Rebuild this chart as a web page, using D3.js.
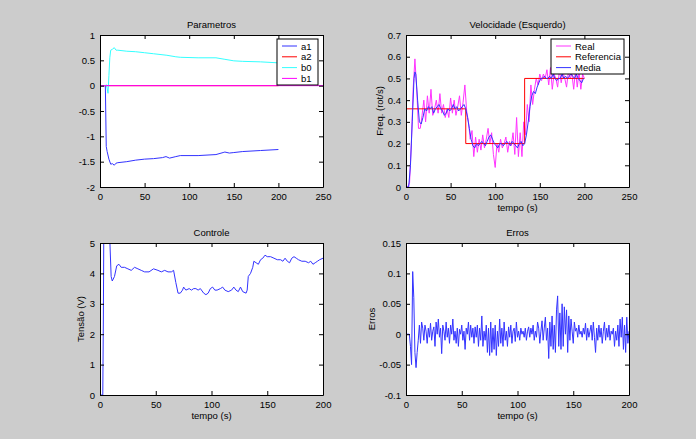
<!DOCTYPE html>
<html>
<head>
<meta charset="utf-8">
<script src="https://cdn.jsdelivr.net/npm/d3@7"></script>
<style>
  body { margin: 0; background: #cccccc; }
  svg { display: block; font-family: "Liberation Sans", Arial, sans-serif; }
  .tick text { font-size: 9.5px; fill: #000; }
</style>
</head>
<body>
<div id="fig"></div>
<script>
// Parametros
var a1T = [0, 6, 7, 8, 10, 12, 14, 16, 18, 20, 30, 40, 50, 60, 70, 74, 78, 85, 90, 110, 130, 138, 140, 145, 150, 160, 180, 200];
var a1V = [0, 0, -1.2, -1.3, -1.45, -1.55, -1.54, -1.57, -1.53, -1.52, -1.5, -1.47, -1.45, -1.44, -1.42, -1.4, -1.43, -1.4, -1.38, -1.38, -1.36, -1.32, -1.31, -1.33, -1.32, -1.3, -1.28, -1.26];
var a2T = [0, 200];
var a2V = [0, 0];
var b0T = [0, 6, 7, 8, 9, 10, 11, 12, 14, 16, 18, 20, 30, 40, 50, 60, 75, 85, 90, 110, 130, 140, 150, 160, 180, 200];
var b0V = [0, 0, 0.02, -0.05, -0.15, 0.2, 0.55, 0.7, 0.72, 0.75, 0.7, 0.7, 0.68, 0.67, 0.65, 0.63, 0.6, 0.57, 0.56, 0.55, 0.55, 0.52, 0.49, 0.48, 0.47, 0.45];
var b1T = [0, 250];
var b1V = [0, 0];

// Velocidade (Esquerdo)
var realT = d3.range(0, 201, 2);
var realV = [0, 0, 0.02, 0.2, 0.45, 0.59, 0.45, 0.27, 0.27, 0.33, 0.4, 0.3, 0.42, 0.34, 0.45, 0.33, 0.36, 0.4, 0.34, 0.43,
  0.34, 0.38, 0.32, 0.36, 0.32, 0.41, 0.34, 0.4, 0.33, 0.37, 0.42, 0.33, 0.39, 0.47, 0.35, 0.3, 0.22, 0.26, 0.14, 0.23,
  0.16, 0.22, 0.17, 0.24, 0.18, 0.22, 0.27, 0.2, 0.25, 0.15, 0.09, 0.2, 0.16, 0.22, 0.18, 0.2, 0.23, 0.16, 0.21, 0.19,
  0.25, 0.15, 0.32, 0.14, 0.25, 0.14, 0.3, 0.24, 0.38, 0.3, 0.47, 0.38, 0.45, 0.5, 0.47, 0.52, 0.49, 0.52, 0.5, 0.54,
  0.47, 0.55, 0.45, 0.52, 0.5, 0.46, 0.54, 0.48, 0.53, 0.5, 0.46, 0.53, 0.5, 0.52, 0.45, 0.54, 0.46, 0.53, 0.45, 0.52, 0.5];
var refT = [0, 67, 67, 133, 133, 200];
var refV = [0.36, 0.36, 0.2, 0.2, 0.5, 0.5];
var mediaT = [0, 3, 5, 7, 9, 10, 11, 13, 15, 17, 19, 21, 23, 25, 27, 29, 31, 33, 35, 37, 39, 41, 43, 45, 47, 49, 51, 53, 55, 57,
  59, 61, 63, 65, 67, 69, 71, 73, 75, 77, 79, 81, 83, 85, 87, 89, 91, 93, 95, 97, 99, 101, 103, 105, 107, 109, 111, 113, 115, 117,
  119, 121, 123, 125, 127, 129, 131, 133, 135, 137, 139, 141, 143, 145, 147, 149, 151, 153, 155, 157, 159, 161, 163, 165, 167, 169, 171, 173, 175, 177,
  179, 181, 183, 185, 187, 189, 191, 193, 195, 197, 199];
var mediaV = [0, 0, 0.1, 0.3, 0.5, 0.53, 0.52, 0.4, 0.3, 0.29, 0.32, 0.36, 0.35, 0.37, 0.36, 0.37, 0.34, 0.36, 0.37, 0.38,
  0.36, 0.35, 0.33, 0.34, 0.36, 0.35, 0.36, 0.38, 0.36, 0.37, 0.35, 0.36, 0.37, 0.38, 0.36, 0.32, 0.27, 0.22, 0.19, 0.18,
  0.2, 0.19, 0.2, 0.21, 0.2, 0.19, 0.21, 0.23, 0.24, 0.22, 0.2, 0.19, 0.18, 0.2, 0.2, 0.19, 0.2, 0.21, 0.2, 0.19,
  0.21, 0.2, 0.19, 0.18, 0.2, 0.21, 0.19, 0.2, 0.24, 0.3, 0.37, 0.42, 0.44, 0.43, 0.46, 0.48, 0.5, 0.5, 0.51, 0.5,
  0.5, 0.51, 0.5, 0.52, 0.5, 0.49, 0.5, 0.5, 0.52, 0.5, 0.51, 0.5, 0.51, 0.52, 0.51, 0.5, 0.52, 0.5, 0.49, 0.48, 0.5];

// Controle
var ctrlT = [0, 2.5, 3, 3.5, 8, 9, 10, 11, 13, 15, 17, 19, 22, 25, 28, 31, 34, 37, 40, 44, 48, 52, 55, 58, 61, 64, 66, 68, 70, 72,
  74, 75, 77, 80, 82, 84, 86, 88, 90, 93, 95, 97, 99, 101, 103, 105, 108, 110, 112, 115, 118, 120, 122, 124, 126, 128, 131, 132, 133, 135,
  137, 138, 140, 142, 144, 146, 148, 150, 153, 156, 159, 162, 164, 166, 168, 170, 172, 174, 176, 178, 181, 184, 187, 189, 191, 193, 195, 197, 200];
var ctrlV = [0, 0, 2.5, 6, 6, 4.9, 3.9, 3.75, 3.9, 4.25, 4.3, 4.2, 4.2, 4.15, 4.1, 4.2, 4.15, 4.1, 4.05, 4.05, 4.15, 4.1, 4.05, 4.1, 4.05, 4.05, 4.1, 3.7, 3.35, 3.35,
  3.45, 3.55, 3.45, 3.5, 3.45, 3.5, 3.5, 3.45, 3.5, 3.35, 3.3, 3.35, 3.5, 3.55, 3.45, 3.45, 3.5, 3.55, 3.45, 3.4, 3.45, 3.55, 3.45, 3.4, 3.55, 3.4, 3.35, 3.45, 3.9, 4.0,
  4.2, 4.4, 4.35, 4.3, 4.45, 4.5, 4.6, 4.55, 4.55, 4.5, 4.45, 4.45, 4.4, 4.5, 4.4, 4.35, 4.5, 4.55, 4.5, 4.45, 4.4, 4.4, 4.35, 4.4, 4.3, 4.35, 4.4, 4.45, 4.5];

// Erros
var errT = d3.range(0, 201, 1);
var errV = [0, 0, 0, 0, -0.02, -0.05, 0.103, 0.06, -0.03, -0.055, -0.03, -0.01, 0.015, -0.015, 0.02, 0.01, -0.01, 0.015, 0.005, -0.015,
  0.01, -0.005, 0.018, -0.01, 0.005, 0.012, -0.02, 0.02, 0, 0.025, -0.005, 0.01, -0.032, 0.015, 0.005, -0.01, 0.02, -0.005, 0.01, -0.015,
  0.015, 0, 0.025, -0.01, 0.005, -0.015, 0.01, -0.02, 0.008, 0, 0.015, -0.01, 0.005, -0.025, 0.01, 0, 0.02, -0.01, 0.015, -0.005,
  0.01, -0.015, 0.012, -0.005, 0.015, -0.02, 0.01, -0.01, 0.03, -0.02, 0.005, -0.01, 0.015, -0.03, 0.01, -0.035, 0.02, -0.03, 0.01, -0.025,
  0.015, -0.035, 0.005, -0.02, 0.025, -0.015, 0.01, -0.02, 0.02, -0.01, 0.005, -0.02, 0.012, -0.005, 0.015, -0.015, 0.005, 0.01, -0.012, 0.02,
  -0.005, 0.005, -0.01, 0.01, 0, 0.005, -0.005, 0.01, -0.01, 0.005, 0.012, -0.005, 0.01, 0, 0.015, -0.01, 0.005, -0.005, 0.02, 0.01,
  -0.015, 0.005, 0.022, -0.01, 0.01, 0.028, -0.01, 0.01, -0.04, 0.02, -0.02, 0.03, -0.025, 0.015, -0.03, 0.04, 0.063, -0.02, 0.035, -0.025,
  0.05, -0.02, 0.045, 0, 0.04, -0.03, 0.03, -0.01, 0.025, 0.005, -0.015, 0.02, 0.005, 0.01, -0.005, 0.015, 0, 0.005, -0.005, 0.01,
  0, 0.018, -0.01, 0.01, -0.005, 0.005, 0.015, -0.01, 0.02, -0.005, -0.03, 0.01, -0.01, 0.015, -0.005, 0.01, -0.015, 0.005, 0.02, -0.01,
  0.01, -0.005, 0.015, -0.01, 0.005, 0, 0.01, -0.02, 0.005, -0.01, 0.015, -0.02, 0.025, -0.005, 0.028, -0.025, 0.015, -0.03, 0.028, -0.015, 0.005];

var svg = d3.select("#fig").append("svg")
    .attr("width", 696)
    .attr("height", 439);

svg.append("rect").attr("width", 696).attr("height", 439).attr("fill", "#cccccc");

var fmt = function (d) { return String(+d.toFixed(2)); };

function panel(o) {
  var x = d3.scaleLinear().domain(o.xdom).range([o.x0, o.x1]);
  var y = d3.scaleLinear().domain(o.ydom).range([o.y1, o.y0]);
  var g = svg.append("g");
  var id = "clip" + o.id;

  g.append("clipPath").attr("id", id).append("rect")
      .attr("x", o.x0).attr("y", o.y0)
      .attr("width", o.x1 - o.x0).attr("height", o.y1 - o.y0);

  g.append("rect")
      .attr("x", o.x0).attr("y", o.y0)
      .attr("width", o.x1 - o.x0).attr("height", o.y1 - o.y0)
      .attr("fill", "#fff");

  var line = d3.line().x(d => x(d[0])).y(d => y(d[1]));
  var lines = g.append("g").attr("clip-path", "url(#" + id + ")");
  o.series.forEach(function (s) {
    lines.append("path")
        .datum(s.t.map((t, i) => [t, s.v[i]]))
        .attr("fill", "none")
        .attr("stroke", s.color)
        .attr("stroke-width", 1)
        .attr("d", line);
  });

  // MATLAB style: ticks inward on all four sides
  g.append("g").attr("transform", "translate(0," + o.y1 + ")")
      .call(d3.axisBottom(x).tickValues(o.xticks).tickFormat(fmt).tickSizeInner(-4).tickSizeOuter(0).tickPadding(6));
  g.append("g").attr("transform", "translate(0," + o.y0 + ")")
      .call(d3.axisTop(x).tickValues(o.xticks).tickFormat("").tickSizeInner(-4).tickSizeOuter(0));
  g.append("g").attr("transform", "translate(" + o.x0 + ",0)")
      .call(d3.axisLeft(y).tickValues(o.yticks).tickFormat(fmt).tickSizeInner(-4).tickSizeOuter(0).tickPadding(5));
  g.append("g").attr("transform", "translate(" + o.x1 + ",0)")
      .call(d3.axisRight(y).tickValues(o.yticks).tickFormat("").tickSizeInner(-4).tickSizeOuter(0));
  g.selectAll(".domain").attr("stroke", "#000");
  g.selectAll(".tick line").attr("stroke", "#000");

  g.append("text")
      .attr("x", (o.x0 + o.x1) / 2).attr("y", o.y0 - 7)
      .attr("text-anchor", "middle").attr("font-size", 9.5)
      .text(o.title);
  if (o.xlabel) {
    g.append("text")
        .attr("x", (o.x0 + o.x1) / 2).attr("y", o.y1 + 24)
        .attr("text-anchor", "middle").attr("font-size", 9.5)
        .text(o.xlabel);
  }
  if (o.ylabel) {
    g.append("text")
        .attr("transform", "translate(" + o.ylx + "," + (o.y0 + o.y1) / 2 + ") rotate(-90)")
        .attr("text-anchor", "middle").attr("font-size", 9.5)
        .text(o.ylabel);
  }
  if (o.legend) {
    var L = o.legend;
    var lg = g.append("g");
    lg.append("rect")
        .attr("x", L.x).attr("y", L.y).attr("width", L.w).attr("height", L.h)
        .attr("fill", "#fff").attr("stroke", "#000");
    o.series.forEach(function (s, i) {
      var cy = L.y + 7 + i * 10.8;
      lg.append("line")
          .attr("x1", L.x + 5).attr("x2", L.x + 20).attr("y1", cy).attr("y2", cy)
          .attr("stroke", s.color).attr("stroke-width", 1);
      lg.append("text")
          .attr("x", L.x + 24).attr("y", cy + 3.5)
          .attr("font-size", 9.5)
          .text(s.name);
    });
  }
}

panel({
  id: 1, x0: 100, x1: 323, y0: 35, y1: 187,
  xdom: [0, 250], ydom: [-2, 1],
  xticks: [0, 50, 100, 150, 200, 250], yticks: [-2, -1.5, -1, -0.5, 0, 0.5, 1],
  title: "Parametros",
  series: [
    { name: "a1", t: a1T, v: a1V, color: "#3333ff" },
    { name: "a2", t: a2T, v: a2V, color: "#ff0000" },
    { name: "b0", t: b0T, v: b0V, color: "#33ffff" },
    { name: "b1", t: b1T, v: b1V, color: "#ff00ff" }
  ],
  legend: { x: 277, y: 39, w: 41, h: 46 }
});

panel({
  id: 2, x0: 406, x1: 629, y0: 35, y1: 187,
  xdom: [0, 250], ydom: [0, 0.7],
  xticks: [0, 50, 100, 150, 200, 250], yticks: [0, 0.1, 0.2, 0.3, 0.4, 0.5, 0.6, 0.7],
  title: "Velocidade (Esquerdo)", xlabel: "tempo (s)", ylabel: "Freq. (rot/s)", ylx: 383,
  series: [
    { name: "Real", t: realT, v: realV, color: "#ff33ff" },
    { name: "Referencia", t: refT, v: refV, color: "#ff0000" },
    { name: "Media", t: mediaT, v: mediaV, color: "#3333ff" }
  ],
  legend: { x: 551, y: 39, w: 73, h: 35 }
});

panel({
  id: 3, x0: 100, x1: 323, y0: 243, y1: 395,
  xdom: [0, 200], ydom: [0, 5],
  xticks: [0, 50, 100, 150, 200], yticks: [0, 1, 2, 3, 4, 5],
  title: "Controle", xlabel: "tempo (s)", ylabel: "Tensão (V)", ylx: 84,
  series: [{ name: "u", t: ctrlT, v: ctrlV, color: "#3333ff" }]
});

panel({
  id: 4, x0: 406, x1: 629, y0: 243, y1: 395,
  xdom: [0, 200], ydom: [-0.1, 0.15],
  xticks: [0, 50, 100, 150, 200], yticks: [-0.1, -0.05, 0, 0.05, 0.1, 0.15],
  title: "Erros", xlabel: "tempo (s)", ylabel: "Erros", ylx: 375,
  series: [{ name: "e", t: errT, v: errV, color: "#3333ff" }]
});
</script>
</body>
</html>
